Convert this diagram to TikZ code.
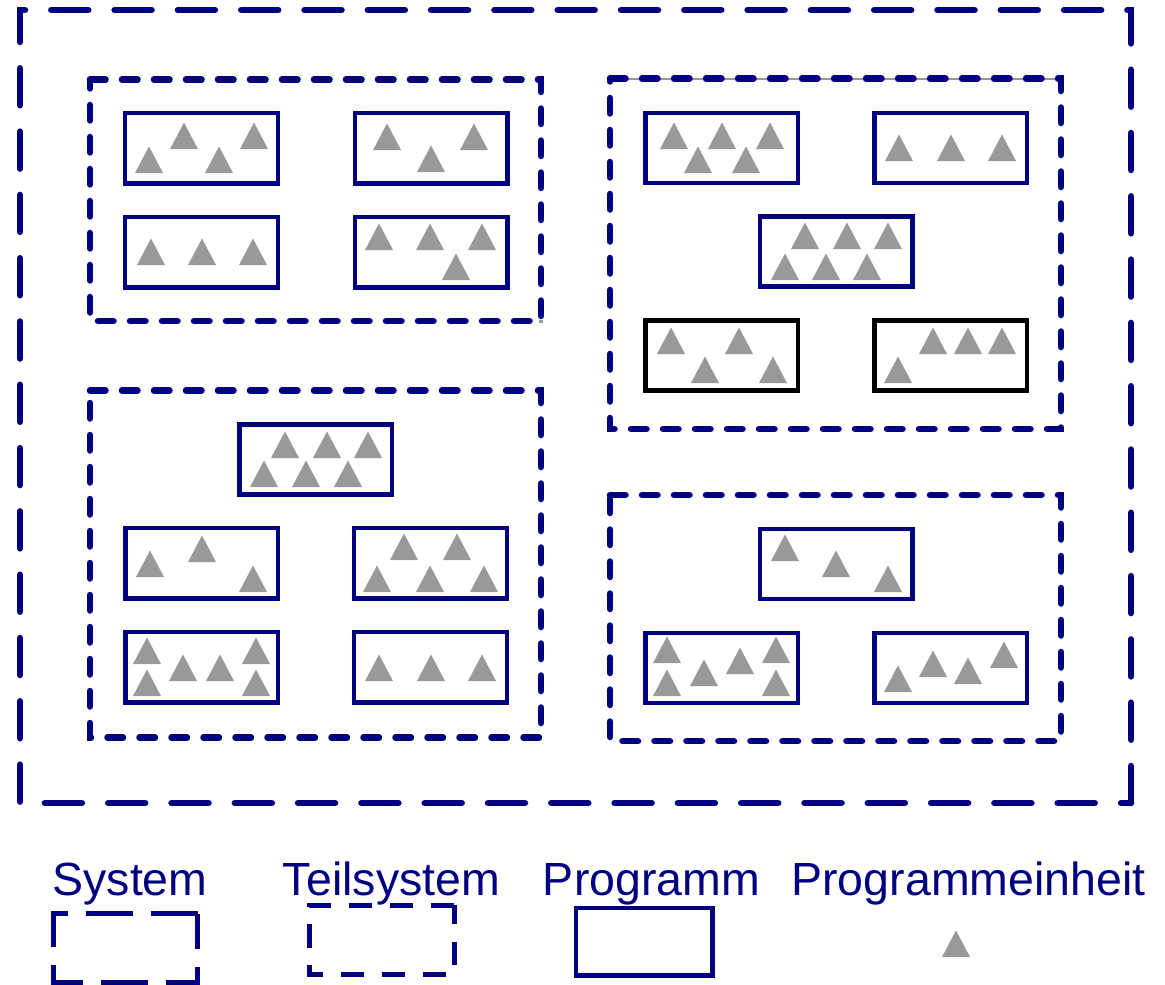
\documentclass[tikz,border=0pt]{standalone}
\usepackage{fontspec}
\setmainfont{Liberation Sans}
\definecolor{sysblue}{RGB}{0,0,128}
\definecolor{unitgray}{RGB}{153,153,153}
\tikzset{
  sysbox/.style={draw=sysblue, line width=6.5pt, line cap=round, dash pattern=on 37pt off 26.3pt},
  subbox/.style={draw=sysblue, line width=6.5pt, line cap=round, dash pattern=on 15.5pt off 16.5pt},
  progbox/.style={draw=sysblue, line width=4.4pt},
  progblack/.style={progbox, draw=black},
  legsys/.style={draw=sysblue, line width=5pt, dash pattern=on 47pt off 18pt},
  legsub/.style={draw=sysblue, line width=5pt, dash pattern=on 23.5pt off 17.5pt},
  lbl/.style={text=sysblue, font=\fontsize{46.5}{50}\selectfont, inner sep=0pt, anchor=base},
  unit/.pic={\fill[unitgray] (-14,0) -- (14,0) -- (0,-26.5) -- cycle;}
}
\begin{document}
\begin{tikzpicture}[x=1pt,y=-1pt]
\useasboundingbox (0,0) rectangle (1165,985);

% System (outer)
\draw[sysbox] (1131,803) -- (1131,10) -- (20,10) -- (20,803) -- cycle;

% gray artefacts under the subsystem borders
\draw[unitgray, line width=2pt] (610,78.5) -- (1061,78.5);
\foreach \cx/\cy in {541/321.5, 90/737, 610.5/494.5}
  \fill[unitgray] ({\cx-1.6},{\cy-1.6}) rectangle +(3.2,3.2);

% Teilsysteme
\draw[subbox] (90,79.5) -- (541,79.5) -- (541,321) -- (90,321) -- cycle;
\draw[subbox] (610,78.5) -- (1061,78.5) -- (1061,429) -- (610,429) -- cycle;
\draw[subbox] (90,390.5) -- (541,390.5) -- (541,737.5) -- (90,737.5) -- cycle;
\draw[subbox] (610,495) -- (1061,495) -- (1061,741) -- (610,741) -- cycle;

% Programme (blue)
\foreach \x/\y in {123/111, 352.5/111, 123/215, 352.5/215,
                   643.3/110.7, 872.3/110.7, 757.7/214.3,
                   237.3/422.3, 123.3/526, 352/526, 123.3/630, 352/630,
                   757.7/526.7, 643.3/630.7, 872.3/630.7}
  \draw[progbox] ({\x+2.2},{\y+2.2}) rectangle +(152.6,70.1);
% Programme (black)
\foreach \x/\y in {643.3/318.3, 872.3/318.3}
  \draw[progblack] ({\x+2.2},{\y+2.2}) rectangle +(152.6,70.1);

% Programmeinheiten
\foreach \x/\y in {
  149/173, 184/149, 219/173, 254/149,
  387/150, 431/172, 474/150,
  151/265, 202/265, 253/265,
  379/250, 430/250, 482/250, 456/280,
  674/149, 722/149, 770/149, 698/173, 746/173,
  899/161, 951/161, 1002/161,
  805/249, 847/249, 888/249, 785/280, 826/280, 867/280,
  671/354, 739/354, 705/383, 773/383,
  933/354, 968/354, 1002/354, 898/383,
  285/458, 327/458, 368/458, 264/487, 306/487, 348/487,
  150/577, 202/562, 253/592,
  404/560, 457/560, 377/592, 430/592, 484/592,
  147/664, 147/696, 183/681, 220/681, 256/664, 256/696,
  379/681, 431/681, 482/681,
  785/561, 836/577, 888/592,
  667/663, 667/696, 704/686, 740/674, 776/663, 776/696,
  898/692, 933/677, 968/684, 1004/668}
  \pic at (\x,\y) {unit};

% Legend
\node[lbl] (lsys) at (130,895) {System};
\node[lbl] (lsub) at (391.5,895) {Teilsystem};
\node[lbl] (lprog) at (651.5,895) {Programm};
\node[lbl] (lunit) at (968.5,895) {Programmeinheit};

\draw[legsys] (197.5,913.5) -- (53.5,913.5) -- (53.5,982) -- (197.5,982) -- cycle;
\draw[legsub] (454,905) -- (309,905) -- (309,974.5) -- (454,974.5) -- cycle;
\draw[progbox] (575.7,908) rectangle (712.5,975.5);
\pic at (956,957) {unit};
\end{tikzpicture}
\end{document}
